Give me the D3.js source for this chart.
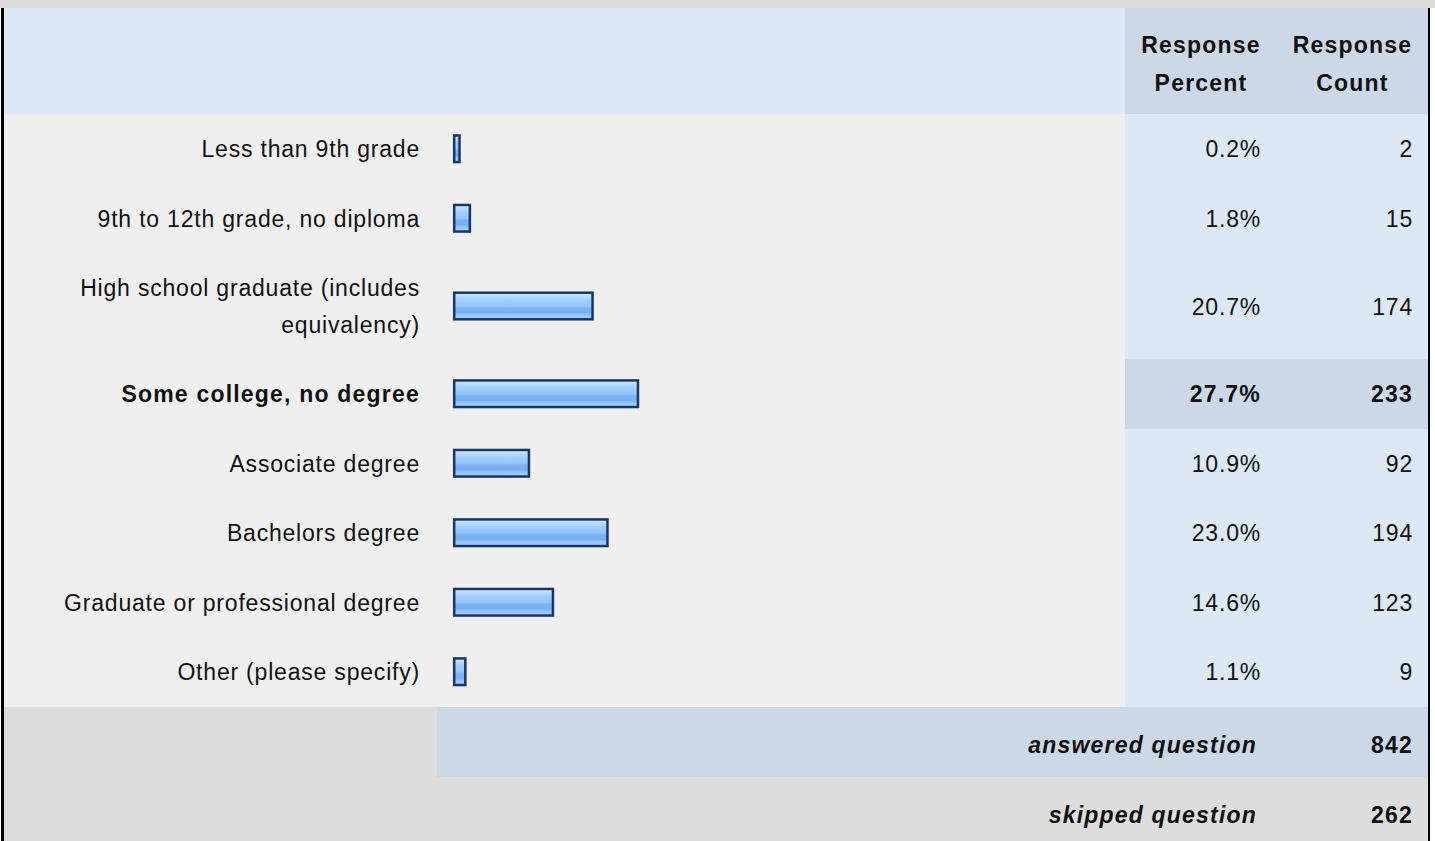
<!DOCTYPE html>
<html><head><meta charset="utf-8">
<script src="https://cdn.jsdelivr.net/npm/d3@7/dist/d3.min.js"></script>
<style>
html,body{margin:0;padding:0;background:#ffffff;}
svg{display:block;font-family:"Liberation Sans",Arial,Helvetica,sans-serif;}
</style></head>
<body>
<svg id="chart" width="1435" height="841"></svg>
<script>
// ---- data ----
const categories = [
  "Less than 9th grade",
  "9th to 12th grade, no diploma",
  "High school graduate (includes equivalency)",
  "Some college, no degree",
  "Associate degree",
  "Bachelors degree",
  "Graduate or professional degree",
  "Other (please specify)"
];
const responsePercent = [0.2, 1.8, 20.7, 27.7, 10.9, 23.0, 14.6, 1.1];
const responseCount = [2, 15, 174, 233, 92, 194, 123, 9];
const headerLabels = [["Response", "Percent"], ["Response", "Count"]];
const summaryLabels = ["answered question", "skipped question"];
const summaryValues = [842, 262];

// ---- layout ----
const W = 1435, H = 841;
const svg = d3.select("#chart");
const C = {
  gray: "#dddddd", header: "#dde8f5", body: "#efefef", dark: "#ccd8e6", border: "#000", text: "#111"
};
const leftX = 4, rightX = 1428;
const colPctX = 1125, colCntX = 1277;
const labelRight = 420, barX0 = 453;
const headerTop = 8, headerBottom = 114;
const lineH = 37.5, singleH = 69.5;
const fontSize = 23;
const lsReg = "0.8px", lsBold = "1.2px";

// page top band
svg.append("rect").attr("x", 0).attr("y", 0).attr("width", W).attr("height", headerTop).attr("fill", C.gray);

// gradient for bars
const defs = svg.append("defs");
const grad = defs.append("linearGradient").attr("id", "barGrad").attr("x1", 0).attr("y1", 0).attr("x2", 0).attr("y2", 1);
[[0, "#dcefff"], [0.12, "#b9dcff"], [0.3, "#9fcdff"], [0.5, "#93c6fd"], [0.58, "#7bb2f1"], [0.75, "#78aff0"], [0.82, "#92c5fb"], [1, "#a3d1ff"]]
  .forEach(([o, c]) => grad.append("stop").attr("offset", o).attr("stop-color", c));

// measure / wrap labels
const measurer = svg.append("text").attr("font-size", fontSize).attr("visibility", "hidden");
function wrap(str, maxW, bold) {
  measurer.attr("font-weight", bold ? "bold" : "normal").attr("letter-spacing", bold ? lsBold : lsReg);
  const words = str.split(" ");
  const lines = [];
  let cur = "";
  words.forEach(w => {
    const t = cur ? cur + " " + w : w;
    measurer.text(t);
    if (measurer.node().getComputedTextLength() > maxW && cur) { lines.push(cur); cur = w; }
    else cur = t;
  });
  if (cur) lines.push(cur);
  return lines;
}
const maxIdx = d3.maxIndex(responsePercent);
const rows = categories.map((c, i) => {
  const lines = wrap(c, 385, i === maxIdx);
  return { cat: c, lines, pct: responsePercent[i], cnt: responseCount[i], bold: i === maxIdx, h: singleH + (lines.length - 1) * 36.5 };
});
let yAcc = headerBottom;
rows.forEach(r => { r.y0 = yAcc; yAcc += r.h; r.y1 = yAcc; r.cy = (r.y0 + r.y1) / 2; });
const bodyBottom = Math.round(yAcc);
const sumH = 70;

function styleText(sel, bold) {
  return sel.attr("font-size", fontSize).attr("fill", C.text)
    .attr("font-weight", bold ? "bold" : "normal").attr("letter-spacing", bold ? lsBold : lsReg);
}

// header
svg.append("rect").attr("x", leftX).attr("y", headerTop).attr("width", rightX - leftX).attr("height", headerBottom - headerTop).attr("fill", C.header);
svg.append("rect").attr("x", colPctX).attr("y", headerTop).attr("width", rightX - colPctX).attr("height", headerBottom - headerTop).attr("fill", C.dark);
const colCenters = [(colPctX + colCntX) / 2, (colCntX + rightX) / 2];
headerLabels.forEach((ls, j) => {
  const t = styleText(svg.append("text").attr("text-anchor", "middle"), true);
  ls.forEach((l, k) => t.append("tspan").attr("x", colCenters[j]).attr("y", 53 + k * 38).text(l));
});

// body backgrounds
svg.append("rect").attr("x", leftX).attr("y", headerBottom).attr("width", colPctX - leftX).attr("height", bodyBottom - headerBottom).attr("fill", C.body);
svg.append("rect").attr("x", colPctX).attr("y", headerBottom).attr("width", rightX - colPctX).attr("height", bodyBottom - headerBottom).attr("fill", C.header);
const rowG = svg.selectAll("g.row").data(rows).join("g").attr("class", "row");
rowG.filter(d => d.bold).append("rect").attr("x", colPctX).attr("y", d => Math.round(d.y0))
  .attr("width", rightX - colPctX).attr("height", d => Math.round(d.y1) - Math.round(d.y0))
  .attr("fill", C.dark);

// labels
rowG.append("text").attr("text-anchor", "end")
  .each(function (d) {
    const t = styleText(d3.select(this), d.bold);
    const n = d.lines.length;
    d.lines.forEach((l, k) => t.append("tspan").attr("x", labelRight)
      .attr("y", d.cy + 8.5 + (k - (n - 1) / 2) * lineH).text(l));
  });

// bars
const x = d3.scaleLinear().domain([0, 100]).range([0, 649]);
rowG.append("rect").attr("x", barX0 + 1.2).attr("y", d => d.cy - 13.3)
  .attr("width", d => x(d.pct) + 4).attr("height", 26.6)
  .attr("fill", "url(#barGrad)").attr("stroke", "#1a355f").attr("stroke-width", 2.5);

// values
const fmtPct = d3.format(".1f");
rowG.append("text").attr("x", colCntX - 16).attr("y", d => d.cy + 8.5).attr("text-anchor", "end")
  .each(function (d) { styleText(d3.select(this), d.bold); })
  .text(d => fmtPct(d.pct) + "%");
rowG.append("text").attr("x", rightX - 15).attr("y", d => d.cy + 8.5).attr("text-anchor", "end")
  .each(function (d) { styleText(d3.select(this), d.bold); })
  .text(d => d.cnt);

// summary rows
const sY0 = bodyBottom;
svg.append("rect").attr("x", leftX).attr("y", sY0).attr("width", rightX - leftX).attr("height", H - sY0).attr("fill", C.gray);
svg.append("rect").attr("x", 437).attr("y", sY0).attr("width", rightX - 437).attr("height", sumH).attr("fill", C.dark);
summaryLabels.forEach((lab, i) => {
  const base = sY0 + sumH * i + sumH / 2 + 10.5;
  styleText(svg.append("text").attr("x", 1257).attr("y", base).attr("text-anchor", "end"), true)
    .attr("font-style", "italic").text(lab);
  styleText(svg.append("text").attr("x", rightX - 15).attr("y", base).attr("text-anchor", "end"), true)
    .text(summaryValues[i]);
});

// borders
svg.append("rect").attr("x", 1).attr("y", headerTop).attr("width", 3).attr("height", H - headerTop).attr("fill", C.border);
svg.append("rect").attr("x", rightX).attr("y", headerTop).attr("width", 2).attr("height", H - headerTop).attr("fill", C.border);
measurer.remove();
</script>
</body></html>
